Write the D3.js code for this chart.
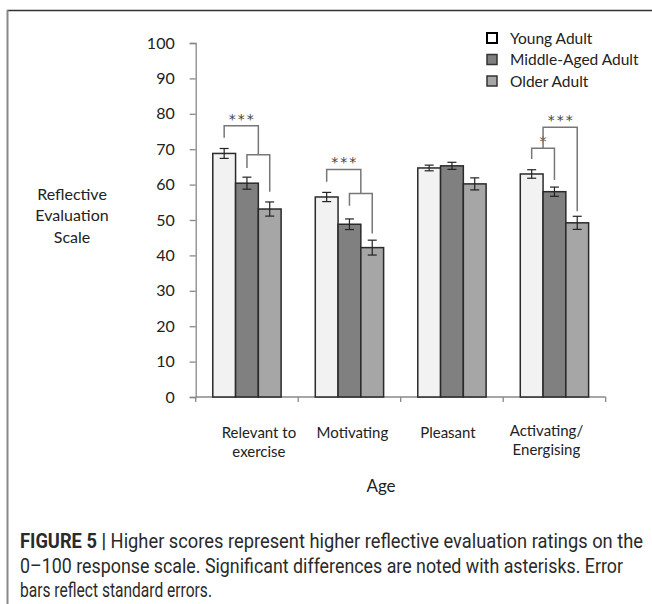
<!DOCTYPE html>
<html><head><meta charset="utf-8">
<script src="https://cdn.jsdelivr.net/npm/d3@7"></script>
<style>body{margin:0;background:#fff}svg{display:block}</style>
</head><body>
<script>
const categories = [["Relevant to","exercise"],["Motivating"],["Pleasant"],["Activating/","Energising"]];
const seriesNames = ["Young Adult","Middle-Aged Adult","Older Adult"];
const youngVals = [68.8, 56.5, 64.7, 63.0];
const middleVals = [60.4, 48.8, 65.3, 58.0];
const olderVals = [53.1, 42.2, 60.2, 49.2];
const youngSE = [1.4, 1.3, 0.8, 1.2];
const middleSE = [1.7, 1.5, 1.0, 1.3];
const olderSE = [2.0, 2.1, 1.7, 1.85];
const yTicks = [0,10,20,30,40,50,60,70,80,90,100];
// significance brackets: group, left/right position in series units, leg ends and top in scale units
const brackets = [
  {g:0, l:1, r:2, lEnd:64.7, rEnd:58.0, top:68.4, label:""},
  {g:0, l:0, r:1.5, lEnd:73.2, rEnd:68.4, top:76.6, label:"***"},
  {g:1, l:1, r:2, lEnd:54.0, rEnd:46.2, top:57.5, label:""},
  {g:1, l:0, r:1.5, lEnd:60.8, rEnd:57.5, top:64.3, label:"***"},
  {g:3, l:0, r:1, lEnd:67.2, rEnd:61.3, top:70.3, label:"*"},
  {g:3, l:0.5, r:2, lEnd:70.3, rEnd:52.5, top:76.2, label:"***"}
];
const captionLines = [
  {bold:"FIGURE 5 | ", text:"Higher scores represent higher reflective evaluation ratings on the"},
  {bold:"", text:"0–100 response scale. Significant differences are noted with asterisks. Error"},
  {bold:"", text:"bars reflect standard errors."}
];

const W=652,H=604;
const fills = ["#f2f2f2","#808080","#a6a6a6"];
const font = "Lato, 'Open Sans', sans-serif";
const labelDx = [12, 3, -4, -8];
const svg = d3.select("body").append("svg").attr("width",W).attr("height",H);
svg.append("rect").attr("width",W).attr("height",H).attr("fill","#fff");
// frame
svg.append("line").attr("x1",7).attr("x2",W).attr("y1",10.5).attr("y2",10.5).attr("stroke","#333").attr("stroke-width",1.5);
svg.append("line").attr("x1",7.5).attr("x2",7.5).attr("y1",10).attr("y2",H).attr("stroke","#888").attr("stroke-width",2);

const y = d3.scaleLinear().domain([0,100]).range([397,43]);
const x = d3.scaleBand().domain(d3.range(categories.length)).range([195.7,605.7]);
const xs = d3.scaleBand().domain(d3.range(3)).range([0,x.bandwidth()]).paddingOuter(0.75).paddingInner(0);
const sx = (g,s)=> x(g)+xs(0)+xs.bandwidth()*(s+0.5);

// y axis
const yAxis = svg.append("g").attr("transform","translate(195.7,0)")
  .call(d3.axisLeft(y).tickValues(yTicks).tickSize(6).tickPadding(15));
yAxis.select(".domain").attr("stroke","#888").attr("stroke-width",1.3);
yAxis.selectAll(".tick line").attr("stroke","#888").attr("stroke-width",1.3);
yAxis.selectAll(".tick text").attr("font-family",font).attr("font-size",16).attr("fill","#222");

// x axis
const xAxis = svg.append("g").attr("transform","translate(0,397)")
  .call(d3.axisBottom(x).tickSize(0).tickFormat(""));
xAxis.select(".domain").attr("stroke","#888").attr("stroke-width",1.3).attr("d","M195.7,0H605.7");
const bounds = d3.range(categories.length+1).map(i=> i<categories.length? x(i): x.range()[1]);
xAxis.selectAll(".bt").data(bounds).join("line").attr("class","bt")
  .attr("x1",d=>d).attr("x2",d=>d).attr("y1",0).attr("y2",5).attr("stroke","#888").attr("stroke-width",1.3);

// bars
const vals=[youngVals,middleVals,olderVals], ses=[youngSE,middleSE,olderSE];
const barData=[];
categories.forEach((c,g)=>seriesNames.forEach((s,i)=>barData.push({g,i,v:vals[i][g],se:ses[i][g]})));
svg.append("g").selectAll("rect").data(barData).join("rect")
  .attr("x",d=>x(d.g)+xs(d.i)).attr("width",xs.bandwidth())
  .attr("y",d=>y(d.v)).attr("height",d=>y(0)-y(d.v))
  .attr("fill",d=>fills[d.i]).attr("stroke","#2a2a2a").attr("stroke-width",1.5);
// error bars
const eb = svg.append("g").attr("stroke","#222").attr("stroke-width",1.2);
barData.forEach(d=>{
  const cx = sx(d.g,d.i);
  eb.append("line").attr("x1",cx).attr("x2",cx).attr("y1",y(d.v+d.se)).attr("y2",y(d.v-d.se));
  eb.append("line").attr("x1",cx-4.5).attr("x2",cx+4.5).attr("y1",y(d.v+d.se)).attr("y2",y(d.v+d.se));
  eb.append("line").attr("x1",cx-4.5).attr("x2",cx+4.5).attr("y1",y(d.v-d.se)).attr("y2",y(d.v-d.se));
});
// brackets
const bg = svg.append("g");
brackets.forEach(b=>{
  const xl=sx(b.g,b.l), xr=sx(b.g,b.r);
  bg.append("path").attr("d",`M${xl},${y(b.lEnd)}V${y(b.top)}H${xr}V${y(b.rEnd)}`)
    .attr("fill","none").attr("stroke","#777").attr("stroke-width",1.5);
  if(b.label) bg.append("text").attr("x",(xl+xr)/2+1).attr("y",y(b.top)-2)
    .attr("text-anchor","middle").attr("font-family","'DejaVu Sans', sans-serif").attr("font-size",14)
    .attr("letter-spacing",2).attr("fill","#444").text(b.label);
});

// category labels
categories.forEach((lines,g)=>{
  const t = svg.append("text").attr("text-anchor","middle").attr("font-family",font)
    .attr("font-size",15).attr("fill","#222");
  lines.forEach((ln,k)=>t.append("tspan").attr("x",x(g)+x.bandwidth()/2+labelDx[g]).attr("y",(lines.length>1&&g===3?436:438)+19*k).text(ln));
});
svg.append("text").attr("x",381).attr("y",492).attr("text-anchor","middle").attr("font-family",font)
  .attr("font-size",17).attr("fill","#222").text("Age");
// y title
const yt = svg.append("text").attr("text-anchor","middle").attr("font-family",font).attr("font-size",16).attr("fill","#222");
["Reflective","Evaluation","Scale"].forEach((ln,k)=>yt.append("tspan").attr("x",72).attr("y",200+21.3*k).text(ln));

// legend
const lg = svg.append("g");
seriesNames.forEach((s,i)=>{
  const cy = 38+21.5*i;
  lg.append("rect").attr("x",487).attr("y",cy-5).attr("width",10).attr("height",10)
    .attr("fill", i===0? "#fff": fills[i]).attr("stroke", i===0? "#000":"#333").attr("stroke-width", i===0?2:1.5);
  lg.append("text").attr("x",510).attr("y",cy+5.5).attr("font-family",font).attr("font-size",15.5).attr("fill","#222").text(s);
});

// caption (condensed via horizontal scale)
const sc = 0.86;
const capW=[623,603,192];
captionLines.forEach((c,k)=>{
  const gcap = svg.append("g").attr("transform",`translate(20,${548+24.5*k}) scale(${sc},1)`);
  const t = gcap.append("text").attr("x",0).attr("y",0).attr("font-family","Roboto, 'Liberation Sans', sans-serif")
    .attr("font-size",19.5).attr("fill","#2a2a2a");
  if(c.bold) t.append("tspan").attr("font-weight","bold").text(c.bold);
  t.append("tspan").text(c.text);
  const w = t.node().getComputedTextLength();
  const target = capW[k]/sc;
  if (Math.abs(w-target) > 1) t.attr("textLength", target).attr("lengthAdjust","spacingAndGlyphs");
});
</script>
</body></html>
